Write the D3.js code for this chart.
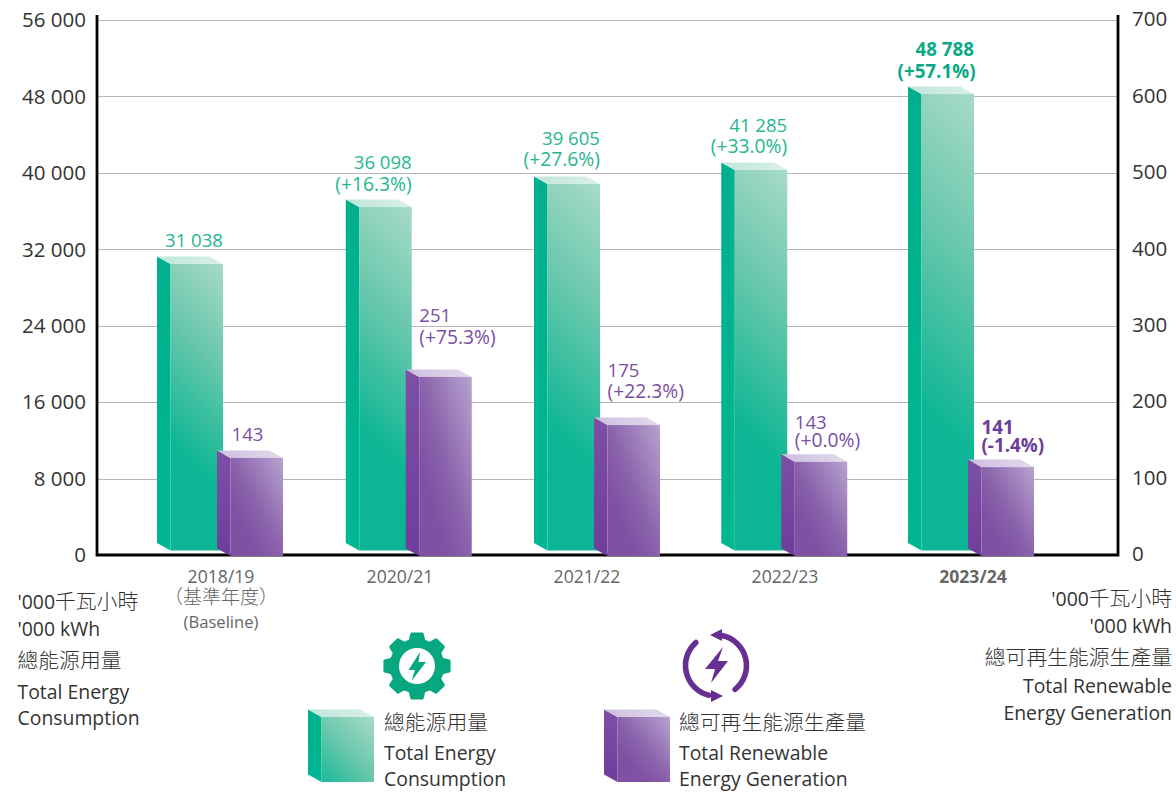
<!DOCTYPE html>
<html><head><meta charset="utf-8">
<script src="https://cdn.jsdelivr.net/npm/d3@7"></script>
<style>
html,body{margin:0;padding:0;background:#fff}
svg{display:block}
text{font-family:"Open Sans","Noto Sans CJK TC",sans-serif}
</style></head><body><svg id="c" width="1176" height="792"></svg>
<script>
const years = ["2018/19","2020/21","2021/22","2022/23","2023/24"];
const energyLabels = ["31 038","36 098","39 605","41 285","48 788"];
const energyChange = ["","(+16.3%)","(+27.6%)","(+33.0%)","(+57.1%)"];
const renewableLabels = ["143","251","175","143","141"];
const renewableChange = ["","(+75.3%)","(+22.3%)","(+0.0%)","(-1.4%)"];
// heights of the bars as drawn, read against each axis
const energyDrawn = [30460,36430,38830,40300,48250];
const renewableDrawn = [127,233,170,122,115];
const leftTicks = [0,8000,16000,24000,32000,40000,48000,56000];
const rightTicks = [0,100,200,300,400,500,600,700];

// layout (not data)
const svg = d3.select("#c");
const baseY = 555, topY = 20, leftX = 97, rightX = 1118;
const yL = d3.scaleLinear().domain([0,56000]).range([baseY,topY]);
const yR = d3.scaleLinear().domain([0,700]).range([baseY,topY]);
const xp = d3.scalePoint().domain(years).range([157,908]);
const nudge = [0,1,1.5,1,0];
const x = (yr)=>xp(yr)+nudge[years.indexOf(yr)];
const W = 66, D = 13.5, H = 7.5;
const GREY="#666", DARK="#333";

const defs = svg.append("defs");
function grad(id,x1,y1,x2,y2,stops,user){
  const g = defs.append("linearGradient").attr("id",id)
    .attr("x1",x1).attr("y1",y1).attr("x2",x2).attr("y2",y2);
  if(user) g.attr("gradientUnits","userSpaceOnUse");
  stops.forEach(s=>g.append("stop").attr("offset",s[0]).attr("stop-color",s[1]));
}
const greenStops=[[0,"#a8dac9"],[.45,"#6bc8ad"],[1,"#0cb694"]];
grad("gTop",0,0,1,0,[[0,"#bfe6da"],[1,"#d9f0e9"]]);
grad("gSide",0,0,0,1,[[0,"#00b08c"],[1,"#00b793"]]);
grad("pFront",1,0,0,1,[[0,"#b7a3cf"],[.5,"#8a62ab"],[.75,"#7f50a3"],[1,"#7f50a3"]]);
grad("pTop",0,0,1,0,[[0,"#cdbfdf"],[1,"#e2daec"]]);
grad("pSide",0,0,0,1,[[0,"#7d4fa5"],[1,"#6f3d9b"]]);

// gridlines
svg.append("g").selectAll("line").data(leftTicks.slice(1)).join("line")
  .attr("x1",leftX).attr("x2",rightX)
  .attr("y1",d=>Math.round(yL(d))+.5).attr("y2",d=>Math.round(yL(d))+.5)
  .attr("stroke","#b5b5b5").attr("stroke-width",1);

// axis frame, under the bars
svg.append("path").attr("d",`M${leftX},15V${baseY}H${rightX}V15`).attr("fill","none").attr("stroke","#000").attr("stroke-width",2.8);

let gid=0;
function cube(g,xb,top,bottom,kind){
  const fx=xb+D, w=W-D;
  let fill="url(#pFront)";
  if(kind==="g"){
    const h=bottom-top, s=Math.max(.8*h,130)/2, r=fx+w, id="gF"+(gid++);
    grad(id,r,top,r-s,top+s,greenStops,true);
    fill=`url(#${id})`;
  }
  g.append("path").attr("d",`M${xb},${top-H}L${fx},${top}L${fx},${bottom}L${xb},${bottom-H}Z`).attr("fill",`url(#${kind}Side)`);
  g.append("path").attr("d",`M${xb},${top-H}L${xb+w},${top-H}L${fx+w},${top}L${fx},${top}Z`).attr("fill",`url(#${kind}Top)`);
  g.append("rect").attr("x",fx).attr("y",top).attr("width",w).attr("height",bottom-top).attr("fill",fill);
}
// bars
const bars = svg.append("g");
years.forEach((yr,i)=>cube(bars.append("g"),x(yr),yL(energyDrawn[i]),550.5,"g"));
years.forEach((yr,i)=>cube(bars.append("g"),x(yr)+60,yR(renewableDrawn[i]),556,"p"));

// axes
function styleAxis(g){
  g.select(".domain").remove();
  g.selectAll("line").remove();
  g.selectAll("text").attr("font-size",20.5).attr("fill",DARK).attr("dy","0.33em");
}
const fmt = d => d3.format(",")(d).replace(/,/g," ");
svg.append("g").attr("transform",`translate(86,0)`)
  .call(d3.axisLeft(yL).tickValues(leftTicks).tickFormat(fmt).tickSize(0).tickPadding(0)).call(styleAxis);
svg.append("g").attr("transform",`translate(1132,-1)`)
  .call(d3.axisRight(yR).tickValues(rightTicks).tickFormat(d3.format("d")).tickSize(0).tickPadding(0)).call(styleAxis);

// text helper
function txt(s,px,py,o={}){
  return svg.append("text").attr("x",px).attr("y",py).text(s)
    .attr("font-size",o.size||18).attr("fill",o.fill||DARK)
    .attr("text-anchor",o.anchor||"start").attr("font-weight",o.weight||400);
}
// mixed latin + light CJK line
function mixed(parts,px,py,anchor){
  const t=svg.append("text").attr("x",px).attr("y",py).attr("fill",DARK).attr("text-anchor",anchor||"start");
  parts.forEach(p=>t.append("tspan").text(p[0]).attr("font-size",p[1]).attr("font-weight",p[2]));
}
// value label baselines
const eValY=[247,169,145,132,56], eChgY=[0,191,166,153,78];
const rValY=[441,322,377,429,434], rChgY=[0,344,398,447,452];
years.forEach((yr,i)=>{
  const right=x(yr)+W, left=x(yr)+60+D+(i===0?1:0), bold=i===4?700:400;
  const gc=i===4?"#0aa985":"#25b78f", pc=i===4?"#6a3d9a":"#7b4ea3";
  const sz=i===4?18.8:18.6, chg=i===4?18.8:19.3;
  txt(energyLabels[i],right,eValY[i],{size:sz,fill:gc,anchor:"end",weight:bold});
  if(eChgY[i]) txt(energyChange[i],right+(i===4?1.5:0),eChgY[i],{size:chg,fill:gc,anchor:"end",weight:bold});
  txt(renewableLabels[i],left,rValY[i],{size:sz,fill:pc,weight:bold});
  if(rChgY[i]) txt(renewableChange[i],left,rChgY[i],{size:chg,fill:pc,weight:bold});
});
// category labels
const catX=[221,400,587,785,973];
years.forEach((yr,i)=>txt(yr,catX[i],583,{size:17.6,fill:GREY,anchor:"middle",weight:i===4?700:400}));
txt("（基準年度）",221,604,{size:19,fill:GREY,anchor:"middle",weight:300});
txt("(Baseline)",221,628,{size:16.6,fill:GREY,anchor:"middle"});

// side captions
const LAT=19.4, CJK=20.8;
mixed([["'000",LAT,400],["千瓦小時",CJK,300]],17.5,609);
txt("'000 kWh",17.5,636,{size:LAT});
txt("總能源用量",17.5,668,{size:CJK,weight:300});
txt("Total Energy",17.5,699,{size:LAT});
txt("Consumption",17.5,725,{size:LAT});
mixed([["'000",LAT,400],["千瓦小時",CJK,300]],1172,606,"end");
txt("'000 kWh",1172,633,{size:LAT,anchor:"end"});
txt("總可再生能源生產量",1172,665,{size:CJK,anchor:"end",weight:300});
txt("Total Renewable",1172,693,{size:LAT,anchor:"end"});
txt("Energy Generation",1172,720,{size:LAT,anchor:"end"});

// legend
cube(svg.append("g"),308,717,782,"g");
cube(svg.append("g"),604,717,782,"p");
txt("總能源用量",384,730,{size:CJK,weight:300});
txt("Total Energy",384,760,{size:LAT});
txt("Consumption",384,786,{size:LAT});
txt("總可再生能源生產量",679,730,{size:CJK,weight:300});
txt("Total Renewable",679,760,{size:LAT});
txt("Energy Generation",679,786,{size:LAT});

// gear icon
const gc=[417,666], teeth=8;
let gp="";
for(let k=0;k<teeth;k++){
  const a=k/teeth*2*Math.PI-Math.PI/2, da=2*Math.PI/teeth;
  const pt=(r,t)=>[(gc[0]+r*Math.cos(t)).toFixed(1),(gc[1]+r*Math.sin(t)).toFixed(1)].join(",");
  gp+=(k?"L":"M")+pt(26,a-da*.34)+"L"+pt(32.5,a-da*.2)+"L"+pt(32.5,a+da*.2)+"L"+pt(26,a+da*.34);
}
svg.append("path").attr("d",gp+"Z").attr("fill","#07a87f").attr("stroke","#07a87f").attr("stroke-width",3).attr("stroke-linejoin","round");
svg.append("circle").attr("cx",gc[0]).attr("cy",gc[1]).attr("r",18).attr("fill","#fff");
svg.append("path").attr("fill","#07a87f")
  .attr("d","M420,652L408.5,670L415,670L411.5,681L426,662L418.5,662Z");

// renewable icon
const rc=[716,665.5], R=30.5;
const arc=d3.arc().innerRadius(R-2.8).outerRadius(R+2.8).cornerRadius(2.8);
const rg=svg.append("g").attr("transform",`translate(${rc})`).attr("fill","#672f92");
rg.append("path").attr("d",arc({startAngle:-3.0,endAngle:-.63}));
rg.append("path").attr("d",arc({startAngle:.1,endAngle:2.56}));
rg.append("path").attr("d","M-6,-30.5L6,-36.5L6,-24.5Z");
rg.append("path").attr("d","M7,30.5L-5,24.5L-5,36.5Z");
svg.append("path").attr("fill","#672f92")
  .attr("d","M723,647L705,669L715,669L711,683L728,661L718,661Z");
</script></body></html>
